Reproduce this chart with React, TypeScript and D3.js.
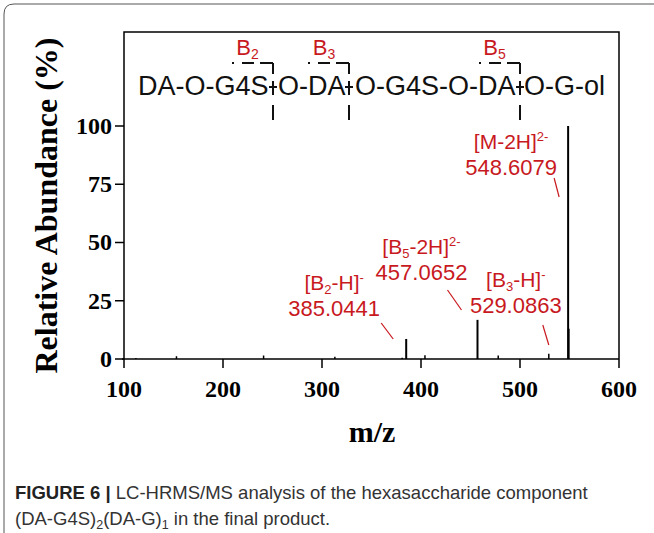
import React from 'react';
import * as d3 from 'd3';

// spectrum peaks (m/z, relative abundance %)
const peakMz = [112.0, 153.0, 241.0, 313.0, 381.0, 385.0441, 404.0, 457.0652, 478.0, 529.0863, 548.6079, 549.11];
const peakAbundance = [0.4, 1.2, 1.5, 1.0, 0.5, 8.6, 1.6, 16.8, 1.5, 2.3, 100, 13];

const xTicks = [100, 200, 300, 400, 500, 600];
const yTicks = [0, 25, 50, 75, 100];

// annotated ions
const ionBase = ['M', 'B', 'B', 'B'];
const ionSub = ['', '5', '2', '3'];
const ionLoss = ['-2H', '-2H', '-H', '-H'];
const ionCharge = ['2-', '2-', '-', '-'];
const ionMz = [548.6079, 457.0652, 385.0441, 529.0863];

// structure of the hexasaccharide, split at the cleavage sites
const structureParts = ['DA-O-G4S', 'O-DA', 'O-G4S-O-DA', 'O-G-ol'];
const cleavageIndex = ['2', '3', '5'];

const RED = '#c8191e';
const SERIF = '"Liberation Serif", "Times New Roman", serif';
const SANS = '"Liberation Sans", Arial, Helvetica, sans-serif';

export default function App() {
  const W = 654;
  const H = 533;
  const box = { left: 124, right: 619, top: 32, bottom: 359 };

  const x = d3.scaleLinear().domain([100, 600]).range([box.left, box.right]);
  const y = d3.scaleLinear().domain([0, 100]).range([box.bottom, 126]);

  // label layout (pixel offsets from each peak)
  const annLayout = [
    { dx: -57, y1: 149, y2: 175, l: [-14, 178, -9, 197] },
    { dx: -56, y1: 254, y2: 280, l: [-30, 290, -16, 310] },
    { dx: -72, y1: 290, y2: 316, l: [-25, 323, -13, 339] },
    { dx: -33, y1: 287, y2: 313, l: [-6, 325, 0, 345] },
  ];

  const partX = [138, 278, 355, 524];
  const cutX = [273, 349, 520];
  const bracketLeft = [230, 307, 477];
  const textBase = 95;

  return (
    <div style={{ position: 'absolute', left: 0, top: 0 }}>
      <svg width={W} height={H} style={{ display: 'block', background: '#fff' }}>
        {/* outer frame */}
        <path d={`M4,${H + 5} V14 Q4,4 14,4 H${W + 5}`} fill="none" stroke="#555" strokeWidth={1} />

        {/* plot box */}
        <path
          d={`M${box.left},${box.bottom} V${box.top} H${box.right} V${box.bottom}`}
          fill="none"
          stroke="#000"
          strokeWidth={1.5}
        />
        <line x1={box.left - 2} x2={box.right} y1={box.bottom} y2={box.bottom} stroke="#000" strokeWidth={1.5} />

        {/* y axis ticks */}
        {yTicks.map(t => (
          <g key={'y' + t}>
            <line x1={box.left - 9} x2={box.left} y1={y(t)} y2={y(t)} stroke="#000" strokeWidth={1.5} />
            <text
              x={box.left - 12}
              y={y(t)}
              dy="0.33em"
              textAnchor="end"
              fontFamily={SERIF}
              fontWeight="bold"
              fontSize={24}
            >
              {t}
            </text>
          </g>
        ))}

        {/* x axis ticks */}
        {xTicks.map(t => (
          <g key={'x' + t}>
            <line x1={x(t)} x2={x(t)} y1={box.bottom} y2={box.bottom + 9} stroke="#000" strokeWidth={1.5} />
            <text x={x(t)} y={397} textAnchor="middle" fontFamily={SERIF} fontWeight="bold" fontSize={24}>
              {t}
            </text>
          </g>
        ))}

        <text x={372} y={442} textAnchor="middle" fontFamily={SERIF} fontWeight="bold" fontSize={30}>
          m/z
        </text>
        <text
          transform={`translate(57,${(box.top + box.bottom) / 2 + 10}) rotate(-90)`}
          textAnchor="middle"
          fontFamily={SERIF}
          fontWeight="bold"
          fontSize={32}
        >
          Relative Abundance (%)
        </text>

        {/* peaks */}
        {peakMz.map((mz, i) => (
          <line
            key={'p' + i}
            x1={x(mz)}
            x2={x(mz)}
            y1={y(0)}
            y2={y(peakAbundance[i])}
            stroke="#000"
            strokeWidth={peakAbundance[i] > 5 ? 2 : 1.5}
          />
        ))}

        {/* peak annotations */}
        {ionMz.map((mz, i) => {
          const px = x(mz);
          const a = annLayout[i];
          return (
            <g key={'a' + i} fill={RED} fontFamily={SANS} fontSize={21}>
              <text x={px + a.dx} y={a.y1} textAnchor="middle">
                [{ionBase[i]}
                {ionSub[i] && (
                  <tspan fontSize={13} dy={4}>
                    {ionSub[i]}
                  </tspan>
                )}
                {ionSub[i] ? <tspan dy={-4}>{ionLoss[i]}]</tspan> : <tspan>{ionLoss[i]}]</tspan>}
                <tspan fontSize={13} dy={-8}>
                  {ionCharge[i]}
                </tspan>
              </text>
              <text x={px + a.dx} y={a.y2} textAnchor="middle" fontSize={22}>
                {mz.toFixed(4)}
              </text>
              <line x1={px + a.l[0]} y1={a.l[1]} x2={px + a.l[2]} y2={a.l[3]} stroke={RED} strokeWidth={1.2} />
            </g>
          );
        })}

        {/* structure with cleavage sites */}
        {structureParts.map((s, i) => (
          <text key={'s' + i} x={partX[i]} y={textBase} fontFamily={SANS} fontSize={27} fill="#111">
            {s}
          </text>
        ))}
        {cutX.map((cx, i) => (
          <g key={'c' + i} stroke="#111" strokeWidth={2} fill="none">
            <line x1={cx} x2={cx} y1={63} y2={74} />
            <line x1={cx} x2={cx} y1={81} y2={95} />
            <line x1={cx} x2={cx} y1={105} y2={120} />
            <line x1={cx - 4} x2={cx + 4} y1={87} y2={87} />
            <line x1={cx} x2={bracketLeft[i]} y1={63} y2={63} strokeDasharray="13,6,12,8,2,20" />
            <text
              x={(cx + bracketLeft[i]) / 2 - 4}
              y={55}
              textAnchor="middle"
              fill={RED}
              stroke="none"
              fontFamily={SANS}
              fontSize={22}
            >
              B
              <tspan fontSize={14} dy={4}>
                {cleavageIndex[i]}
              </tspan>
            </text>
          </g>
        ))}

        {/* caption */}
        <text x={15} y={499} fontFamily={SANS} fontSize={18.5} fill="#333">
          <tspan fontWeight="bold" fill="#222">
            FIGURE 6 |
          </tspan>{' '}
          LC-HRMS/MS analysis of the hexasaccharide component
        </text>
        <text x={15} y={525} fontFamily={SANS} fontSize={18.5} fill="#333">
          (DA-G4S)
          <tspan fontSize={12.5} dy={4}>
            2
          </tspan>
          <tspan dy={-4}>(DA-G)</tspan>
          <tspan fontSize={12.5} dy={4}>
            1
          </tspan>
          <tspan dy={-4}> in the final product.</tspan>
        </text>
      </svg>
    </div>
  );
}
